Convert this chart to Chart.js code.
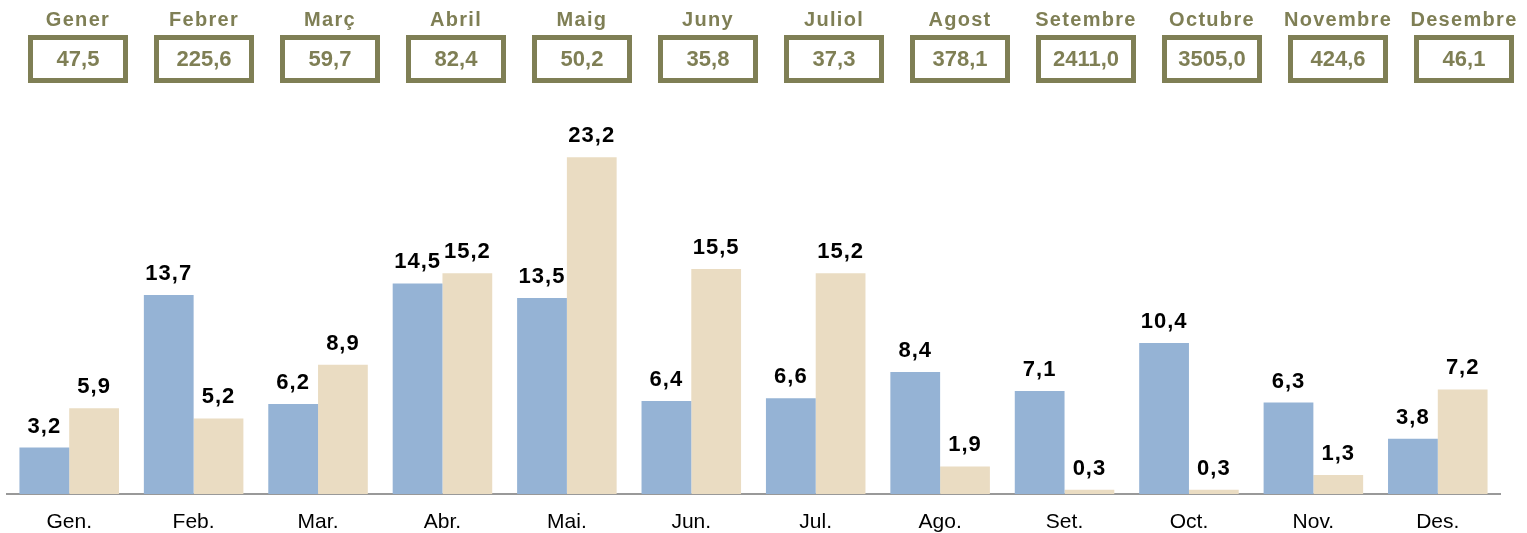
<!DOCTYPE html>
<html>
<head>
<meta charset="utf-8">
<script src="https://cdn.jsdelivr.net/npm/chart.js@4/dist/chart.umd.min.js"></script>
<style>
    body { margin: 0; background: #fff; font-family: "Liberation Sans", Arial, sans-serif; }
    #wrap { position: relative; width: 1527px; height: 533px; }
    #salesChart { position: absolute; left: 0; top: 0; }
    .month-box { position: absolute; top: 6px; width: 100px; text-align: center; color: #7F7F55; font-weight: bold; }
    .month-box .name { font-size: 20px; height: 26px; line-height: 26px; letter-spacing: 1.3px; white-space: nowrap; margin-left: -20px; margin-right: -20px; }
    .month-box .total { margin-top: 3px; height: 38px; line-height: 38px; border: 5px solid #7F7F55; font-size: 22px; }
</style>
</head>
<body>
<div id="wrap">
    <canvas id="salesChart" width="1527" height="533"></canvas>
</div>
<script>
const monthNames = ['Gener', 'Febrer', 'Març', 'Abril', 'Maig', 'Juny', 'Juliol', 'Agost', 'Setembre', 'Octubre', 'Novembre', 'Desembre'];
const monthTotals = ['47,5', '225,6', '59,7', '82,4', '50,2', '35,8', '37,3', '378,1', '2411,0', '3505,0', '424,6', '46,1'];
const labels = ['Gen.', 'Feb.', 'Mar.', 'Abr.', 'Mai.', 'Jun.', 'Jul.', 'Ago.', 'Set.', 'Oct.', 'Nov.', 'Des.'];
const seriesBlue = [3.2, 13.7, 6.2, 14.5, 13.5, 6.4, 6.6, 8.4, 7.1, 10.4, 6.3, 3.8];
const seriesBeige = [5.9, 5.2, 8.9, 15.2, 23.2, 15.5, 15.2, 1.9, 0.3, 0.3, 1.3, 7.2];

// top row of boxes
const wrap = document.getElementById('wrap');
monthNames.forEach((name, i) => {
    const box = document.createElement('div');
    box.className = 'month-box';
    box.style.left = (28 + i * 126) + 'px';
    box.innerHTML = `<div class="name">${name}</div><div class="total">${monthTotals[i]}</div>`;
    wrap.appendChild(box);
});

// value labels above bars
const valueLabels = {
    id: 'valueLabels',
    afterDatasetsDraw(chart) {
        const c = chart.ctx;
        c.save();
        c.font = 'bold 22px "Liberation Sans", Arial, sans-serif';
        c.letterSpacing = '1px';
        c.fillStyle = '#000';
        c.textAlign = 'center';
        c.textBaseline = 'alphabetic';
        chart.data.datasets.forEach((ds, di) => {
            chart.getDatasetMeta(di).data.forEach((bar, i) => {
                c.fillText(ds.data[i].toFixed(1).replace('.', ','), bar.x, bar.y - 15);
            });
        });
        c.restore();
    }
};

const ctx = document.getElementById('salesChart').getContext('2d');
new Chart(ctx, {
    type: 'bar',
    data: {
        labels: labels,
        datasets: [
            { data: seriesBlue, backgroundColor: '#95B3D5', categoryPercentage: 0.8, barPercentage: 1 },
            { data: seriesBeige, backgroundColor: '#EADCC2', categoryPercentage: 0.8, barPercentage: 1 }
        ]
    },
    options: {
        responsive: false,
        animation: false,
        layout: { padding: { left: 7, right: 27, top: 131, bottom: 0 } },
        plugins: { legend: { display: false }, tooltip: { enabled: false } },
        scales: {
            x: {
                grid: { display: false, drawTicks: false },
                border: { color: '#999', width: 2 },
                ticks: { color: '#000', font: { size: 21, family: '"Liberation Sans", Arial, sans-serif' }, padding: 16 },
                afterFit(scale) { scale.height = 39; }
            },
            y: { display: false, min: 0, max: 25 }
        }
    },
    plugins: [valueLabels]
});
</script>
</body>
</html>
